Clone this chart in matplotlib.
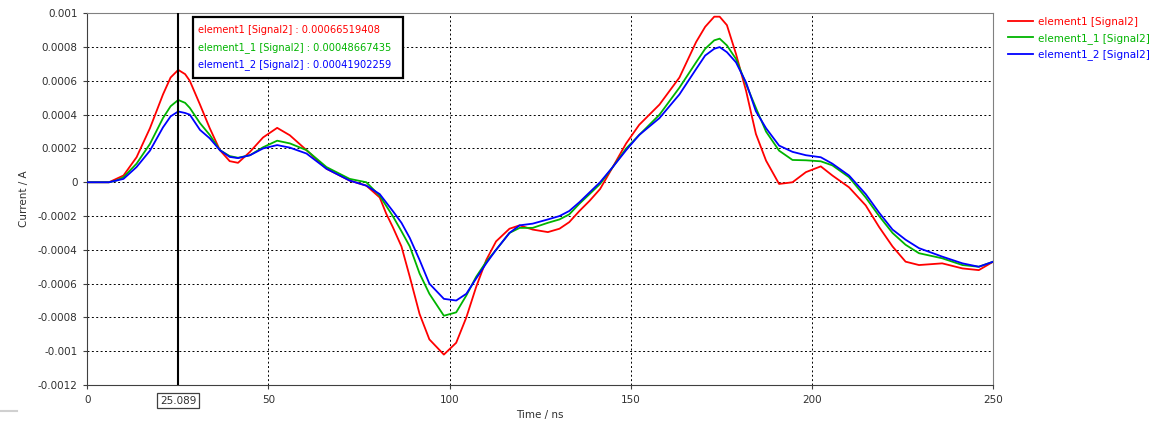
import matplotlib
matplotlib.use("Agg")
import matplotlib.pyplot as plt
from matplotlib.patches import Rectangle
from matplotlib.lines import Line2D
from matplotlib.ticker import FuncFormatter

# sample times (ns)
time_ns = [0, 6, 8, 10, 13.6, 17.3, 20.9, 23, 25.1, 27, 28.3, 31.1, 33.8, 36.6, 39.3, 41.6,
           44.9, 48.5, 52.4, 55.9, 60.5, 66, 72.4, 77, 80.7, 82.5, 84.3, 86.7, 89, 91.7, 94.4,
           98.4, 101.8, 104.6, 107.3, 110.1, 112.8, 116.5, 119.3, 122.9, 127.1, 130.3, 133,
           135.8, 138.6, 141.5, 145, 148.7, 152.3, 157.9, 163.4, 168, 170.5, 173, 174.5,
           176.5, 179, 181.8, 184.5, 187.3, 190.9, 194.6, 198.3, 202.4, 205.6, 210.2, 214.8,
           218.5, 222.2, 225.8, 229.5, 235.9, 241.5, 246, 250]

# current (A)
element1 = [0, 0, 0.00002, 0.00004, 0.000148, 0.00032, 0.00052, 0.00062, 0.000665, 0.00064,
            0.0006, 0.00046, 0.00032, 0.00019, 0.000125, 0.000115, 0.00018, 0.000265,
            0.000322, 0.000278, 0.00019, 0.00008, 0.00001, -0.00002, -0.00009, -0.000186,
            -0.000265, -0.00038, -0.00056, -0.00078, -0.00093, -0.00102, -0.00095, -0.0008,
            -0.00062, -0.00046, -0.00035, -0.000275, -0.000255, -0.00028, -0.000295,
            -0.000275, -0.000236, -0.00017, -0.00011, -0.00004, 0.00009, 0.00023, 0.00034,
            0.00046, 0.00062, 0.00083, 0.00092, 0.00098, 0.00098, 0.00093, 0.00076, 0.00054,
            0.000286, 0.000128, -0.00001, 0, 0.00006, 0.000094, 0.00004, -0.00003,
            -0.000137, -0.000265, -0.00038, -0.00047, -0.00049, -0.00048, -0.00051, -0.00052,
            -0.00047]
element1_1 = [0, 0, 0.00001, 0.00003, 0.00011, 0.000227, 0.00038, 0.00045, 0.000487, 0.00047,
              0.00044, 0.00035, 0.00028, 0.00019, 0.000155, 0.000145, 0.00016, 0.000207,
              0.000246, 0.00023, 0.00019, 0.00009, 0.00002, 0, -0.00008, -0.00014, -0.0002,
              -0.00029, -0.00038, -0.00054, -0.00066, -0.00079, -0.00077, -0.00067, -0.00056,
              -0.00047, -0.0004, -0.0003, -0.00027, -0.00027, -0.00024, -0.00022, -0.00019,
              -0.000127, -0.00007, -0.00001, 0.00009, 0.0002, 0.00028, 0.0004, 0.00056,
              0.00071, 0.00079, 0.00084, 0.00085, 0.00081, 0.00073, 0.00058, 0.00044, 0.0003,
              0.000187, 0.000132, 0.00013, 0.000124, 0.0001, 0.00003, -0.00009, -0.0002,
              -0.0003, -0.00037, -0.00042, -0.00045, -0.00049, -0.0005, -0.00047]
element1_2 = [0, 0, 0.00001, 0.00002, 0.00009, 0.000187, 0.000325, 0.00039, 0.000419, 0.00041,
              0.0004, 0.00031, 0.00026, 0.00019, 0.00015, 0.000143, 0.00016, 0.0002, 0.00022,
              0.000205, 0.00017, 0.00008, 0.00001, -0.00002, -0.00007, -0.00012, -0.00017,
              -0.00024, -0.00033, -0.00046, -0.0006, -0.00069, -0.0007, -0.00066, -0.00057,
              -0.00048, -0.0004, -0.0003, -0.000255, -0.000245, -0.00022, -0.0002, -0.00017,
              -0.000118, -0.00006, 0, 0.00009, 0.00019, 0.00028, 0.00038, 0.00052, 0.00067,
              0.00075, 0.00079, 0.0008, 0.00077, 0.00071, 0.00059, 0.00042, 0.00032, 0.000217,
              0.00018, 0.00016, 0.000148, 0.00011, 0.00004, -0.00007, -0.00018, -0.00028,
              -0.00034, -0.00039, -0.00044, -0.00048, -0.0005, -0.00047]

series_names = ["element1 [Signal2]", "element1_1 [Signal2]", "element1_2 [Signal2]"]
series_colors = ["#ff0000", "#00b400", "#0000ff"]
cursor_x = 25.089
cursor_values = [0.00066519408, 0.00048667435, 0.00041902259]
x_ticks = [0, 50, 100, 150, 200, 250]
y_ticks = [-0.0012, -0.001, -0.0008, -0.0006, -0.0004, -0.0002, 0, 0.0002, 0.0004, 0.0006,
           0.0008, 0.001]

plt.rcParams["font.family"] = "DejaVu Sans"
plt.rcParams["font.size"] = 7.5

fig = plt.figure(figsize=(11.65, 4.25), dpi=100)
ax = fig.add_axes([0.0749, 0.0941, 0.7777, 0.8746])

for values, name, color in zip([element1, element1_1, element1_2], series_names, series_colors):
    ax.plot(time_ns, values, color=color, lw=1.3, label=name, zorder=3)

ax.set_xlim(0, 250)
ax.set_ylim(-0.0012, 0.001)
ax.set_xticks(x_ticks)
ax.set_yticks(y_ticks)
ax.yaxis.set_major_formatter(FuncFormatter(lambda v, pos: f"{v:g}" if abs(v) > 1e-12 else "0"))
ax.tick_params(length=3, width=0.8, color="#404040", labelcolor="#303030", pad=4)
ax.grid(True, color="black", lw=0.7, linestyle=(0, (2, 2.5)))
for side in ("left", "bottom"):
    ax.spines[side].set_color("#404040")
for side in ("top", "right"):
    ax.spines[side].set_color("#808080")

ax.set_xlabel("Time / ns", color="#303030", labelpad=4)
ax.set_ylabel("Current / A", color="#303030", labelpad=6)

# cursor line and its value box
ax.axvline(cursor_x, color="black", lw=1.5, zorder=4)
ax.text(cursor_x, -0.042, f"{cursor_x:.3f}", transform=ax.get_xaxis_transform(),
        ha="center", va="center", color="#303030",
        bbox=dict(boxstyle="square,pad=0.25", fc="white", ec="#404040", lw=0.9))

# readout box
ax.add_patch(Rectangle((0.1167, 0.826), 0.2318, 0.164, transform=ax.transAxes,
                       fc="white", ec="black", lw=1.6, zorder=5))
for i, (name, color, val) in enumerate(zip(series_names, series_colors, cursor_values)):
    ax.text(0.1225, 0.955 - i * 0.047, f"{name} : {val:.11f}", transform=ax.transAxes,
            color=color, va="center", ha="left", fontsize=7.1, zorder=6)

ax.legend(loc="upper left", bbox_to_anchor=(1.016, 0.99), frameon=False, borderaxespad=0,
          borderpad=0, handlelength=2.4, handletextpad=0.5, labelspacing=0.55,
          labelcolor="linecolor")

fig.add_artist(Line2D([0, 17 / 1165], [1 - 411 / 425] * 2, color="#d0d0d0", lw=1.5))

fig.savefig("out.png", dpi=100)
